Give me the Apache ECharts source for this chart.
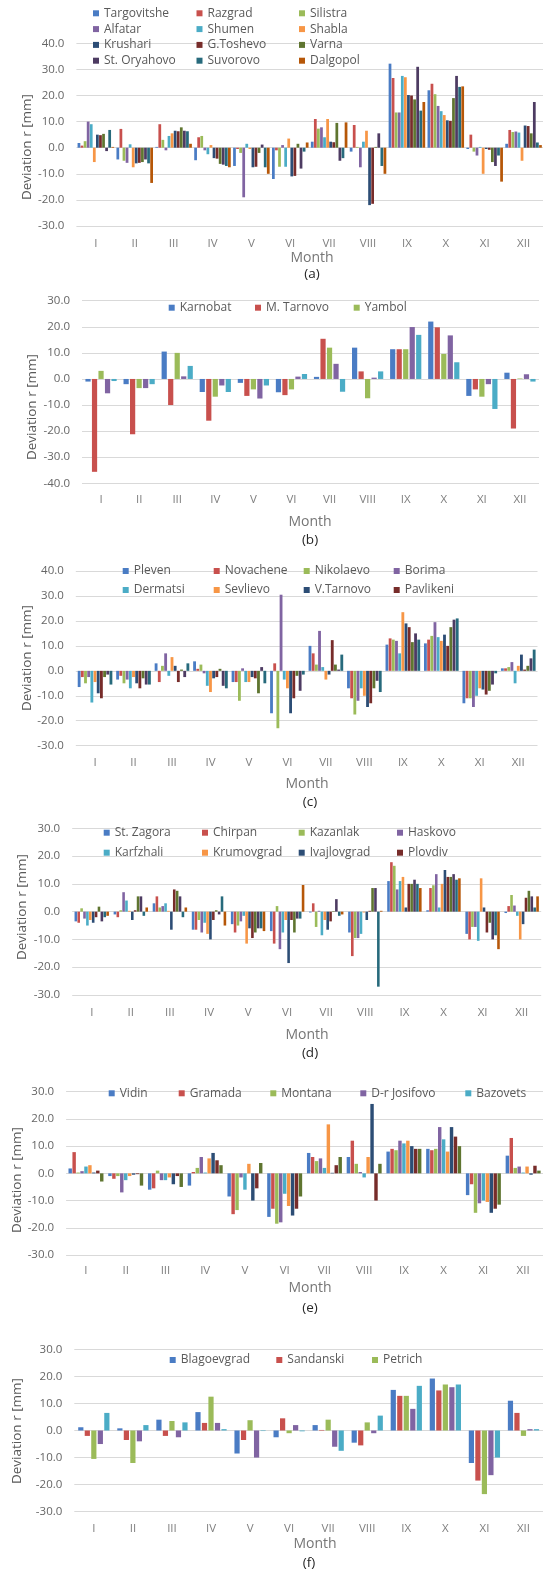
<!DOCTYPE html>
<html>
<head>
<meta charset="utf-8">
<script src="https://cdn.jsdelivr.net/npm/echarts@6/dist/echarts.min.js"></script>
<style>
  html, body { margin: 0; padding: 0; background: #ffffff; }
  #chart { width: 543px; height: 1572px; }
</style>
</head>
<body>
<div id="chart"></div>
<script>
// Monthly deviation r [mm] per station, months I..XII
const months = ['I', 'II', 'III', 'IV', 'V', 'VI', 'VII', 'VIII', 'IX', 'X', 'XI', 'XII'];

// (a) north-east stations
const targovitshe = [1.8, -4.5, 0.3, -4.8, -7, -12, 2.3, -1.5, 32.2, 22, -0.5, 1.5];
const razgrad = [0.8, 7.2, 9, 4, -0.5, -1, 11, 8.7, 26.7, 24.5, 5, 6.8];
const silistra = [2.5, -5, 3, 4.5, -2, -7.3, 7.3, 0.3, 13.5, 20.5, -1.5, 6];
const alfatar = [10, -5.8, -1, -1, -19, 1, 7.8, -7.5, 13.5, 16, -3, 6.2];
const shumen = [9, 1.3, 4.5, -2.5, 1.5, -7.3, 4, 2.3, 27.5, 14, 0.3, 5.8];
const shabla = [-5.5, -7.5, 5.5, 1, -0.5, 3.5, 11, 6.5, 27, 12.5, -10, -5];
const krushari = [5, -6, 6.5, -4, -7.5, -11, 2.3, -22, 20.2, 10.5, -0.5, 8.5];
const gToshevo = [4.8, -5.8, 6.3, -4.2, -7.3, -10.8, 2.1, -21.5, 20, 10.3, -0.8, 8.3];
const varna = [5.3, -5.5, 7.8, -6.2, -2, 1.5, 9.5, 0.3, 18.5, 19, -5.5, 5.5];
const stOryahovo = [-1.3, -4.5, 6.5, -6.5, 1.2, -8, -5, 5.5, 31, 27.5, -7, 17.5];
const suvorovo = [6.8, -6, 6.3, -7, -7.5, -1.5, -4, -7, 14.2, 23.3, -3, 2];
const dalgopol = [0.3, -13.5, 1.5, -7.5, -10, 2, 9.7, -10, 17.5, 23.5, -13, 1];

// (b) south-east stations
const karnobat = [-1, -2, 10.5, -5, -1.5, -5.1, 0.8, 12, 11.4, 22, -6.5, 2.4];
const mTarnovo = [-35.6, -21.2, -10, -16, -6.5, -6.2, 15.4, 2.9, 11.4, 19.8, -4, -19];
const yambol = [3.1, -3.5, 10, -6.8, -4, -4, 12, -7.4, 11.4, 9.6, -6.8, 0.2];
const b4 = [-5.5, -3.5, 1, -2.5, -7.5, 0.9, 5.8, 0.5, 19.9, 16.7, -2, 1.8];
const b5 = [-0.8, -2, 5, -5, -2.5, 1.9, -4.9, 2.9, 16.9, 6.4, -11.5, -1];

// (c) north-central stations
const pleven = [-6.5, -3.5, 3, 3.8, -4.5, -17, 10, -7, 10.5, 11, -13, 1];
const novachene = [-2.5, -2, -4.5, 0.8, -4.5, 3, 7, -11, 13, 12.5, -11, 1];
const nikolaevo = [-5, -5, 2, 2.5, -12, -23, 2.5, -17.5, 12.5, 14, -11, 1.5];
const borima = [-2.5, -3.5, 7, -1, 1, 30.5, 16, -12, 12, 19.5, -14.5, 3.5];
const dermatsi = [-12.7, -7, -2, -6, -4.5, -3.5, 1.5, -7, 7, 13.5, -10, -5];
const sevlievo = [-4.5, -2.5, 5.5, -8.5, -4.5, -7, -3.5, -10, 23.5, 12, -7, 2];
const vTarnovo = [-9, -5, 2, -3, -2.5, -17, -1.5, -14.5, 19, 14.5, -7.5, 6.5];
const pavlikeni = [-11, -7, -4.5, -2.5, -3, -11, 12.3, -13, 17.5, 10, -9.5, 0.5];
const c9 = [-2.5, -3, 0.5, 0.8, -9, -2, 2.5, -7, 11.5, 17.5, -8, 2];
const c10 = [-1.5, -5.5, -2.5, -6, 1.5, -8, 0.5, -4, 15, 20.5, -5.5, 5];
const c11 = [-5.5, -5.5, 3, -7, -5, -1.5, 6.5, -8.5, 12.5, 21, -1, 8.5];

// (d) south-central stations
const stZagora = [-3.5, -1, 3, -6.5, -4.5, -7, -0.3, -7.5, 11, 0.5, -8, -0.5];
const chirpan = [-4, -2, 5.5, -6.5, -7.5, -11.5, 3, -16, 17.8, 8.5, -10, 2];
const kazanlak = [1.2, 0.5, 1.5, -3, -5, 2, -5.5, -9.5, 16.5, 9.5, -5.5, 6];
const haskovo = [-2.5, 7, 2, -7.5, -3.5, -13.5, 0.3, -9.5, 8, 13.5, -5.5, 2.2];
const karfzhali = [-5, 4, 3, -4, -1.5, -7.5, -8.5, -8, 11, 1.5, -10.5, -1.5];
const krumovgrad = [-3, 0.3, 0.3, -8, -11.5, -3, -3, -0.3, 12.5, 10, 12, -10];
const ivajlovgrad = [-4, -3, -6.5, -10, -6, -18.5, -6.5, -3, 1.5, 15, 1.5, -4.5];
const plovdiv = [-2, 0.5, 8, -3, -9.5, -3, -3.5, 0.3, 10, 12.5, -7.5, 5];
const d9 = [1.8, 5.5, 7.5, 0.5, -7.5, -7.5, 0.2, 8.5, 10, 12.5, -4, 7.5];
const d10 = [-3.5, 5.5, 5.5, -1, -6, -2.5, 4.5, 8.5, 11.5, 13.5, -10, 5.5];
const d11 = [-2, -1.5, -2, 5.5, -6, -2.5, -1.5, -27, 10, 11.5, -8.5, 1.5];
const d12 = [-1.5, 1.5, 1.5, -5, -7, 9.6, -1, 0.3, 8.5, 12, -13.5, 5.5];

// (e) north-west stations
const vidin = [1.8, -1, -6, -4.5, -8.5, -16, 7.5, 6, 8, 9, -8, 6.5];
const gramada = [7.8, -2, -5.5, 0.5, -15, -13, 6, 12, 9, 8.5, -4, 13];
const montana = [0.3, -1, 1, 2, -13.5, -18.5, 4.5, 3.5, 8.5, 9, -14.5, 2];
const drJosifovo = [0.8, -7, -2.5, 6, -1.5, -18, 5.5, 0.5, 12, 17, -11, 2.5];
const bazovets = [2.5, -2.5, -2.5, 0.3, -6, -7.5, 2, -1.5, 11, 12.5, -10, 0.3];
const e6 = [3, -1, -1.5, 5.5, 3.5, -12, 18, 6, 12, 8, -10.5, 2.5];
const e7 = [0.3, -0.5, -4, 7.5, -10, -15.5, 0.2, 25.5, 10, 17, -14.5, -0.5];
const e8 = [1, -0.3, -1, 4.8, -5.5, -13, 3, -10, 9, 13.5, -13, 2.8];
const e9 = [-3, -4.5, -5, 3, 3.8, -8.5, 6, 3.5, 9, 10, -11.5, 1];

// (f) south-west stations
const blagoevgrad = [1.2, 0.8, 4, 6.8, -8.5, -2.5, 2, -4.5, 15, 19.2, -12, 11];
const sandanski = [-2, -3.5, -2, 2.8, -3.5, 4.5, 0.2, -5.5, 12.8, 14.8, -18.5, 6.5];
const petrich = [-10.5, -12, 3.5, 12.5, 3.8, -1, 4, 3, 12.8, 17, -23.5, -2];
const f4 = [-5, -4, -2.5, 2.8, -10, 2, -6, -1, 8, 16, -16.5, 0.5];
const f5 = [6.5, 2, 3, 0.5, -0.2, -0.3, -7.5, 5.5, 16.5, 17, -10, 0.5];

const palette = ['#4A7CC4', '#C8504D', '#9BBB59', '#8064A2', '#4BACC6', '#F79646',
                 '#2C4D75', '#772C2A', '#5F7530', '#4D3B62', '#276A7C', '#B65708'];
const FONT = '"Open Sans", "DejaVu Sans", sans-serif';

const panels = [
  { tag: '(a)', grid: { left: 76.4, top: 43.3, width: 471.6, height: 182.7 }, min: -30, max: 40,
    catGap: '6%', barGap: '12%', labelMargin: 13,
    series: [['Targovitshe', targovitshe], ['Razgrad', razgrad], ['Silistra', silistra], ['Alfatar', alfatar],
             ['Shumen', shumen], ['Shabla', shabla], ['Krushari', krushari], ['G.Toshevo', gToshevo],
             ['Varna', varna], ['St. Oryahovo', stOryahovo], ['Suvorovo', suvorovo], ['Dalgopol', dalgopol]],
    monthPos: [312, 258], tagPos: [312, 274], yName: [27.5, 147] },
  { tag: '(b)', grid: { left: 82, top: 300.7, width: 457, height: 182.6 }, min: -40, max: 30,
    catGap: '18%', barGap: '25%', labelMargin: 11,
    series: [['Karnobat', karnobat], ['M. Tarnovo', mTarnovo], ['Yambol', yambol], ['b4', b4], ['b5', b5]],
    monthPos: [310, 522], tagPos: [310, 540], yName: [32.5, 407] },
  { tag: '(c)', grid: { left: 75.8, top: 571, width: 461.7, height: 174.7 }, min: -30, max: 40,
    catGap: '10%', barGap: '12%', labelMargin: 12,
    series: [['Pleven', pleven], ['Novachene', novachene], ['Nikolaevo', nikolaevo], ['Borima', borima],
             ['Dermatsi', dermatsi], ['Sevlievo', sevlievo], ['V.Tarnovo', vTarnovo], ['Pavlikeni', pavlikeni],
             ['c9', c9], ['c10', c10], ['c11', c11]],
    monthPos: [307, 784], tagPos: [310, 802], yName: [27.5, 658] },
  { tag: '(d)', grid: { left: 72.2, top: 828.3, width: 469, height: 166.7 }, min: -30, max: 30,
    catGap: '12%', barGap: '12%', labelMargin: 12.5,
    series: [['St. Zagora', stZagora], ['Chirpan', chirpan], ['Kazanlak', kazanlak], ['Haskovo', haskovo],
             ['Karfzhali', karfzhali], ['Krumovgrad', krumovgrad], ['Ivajlovgrad', ivajlovgrad], ['Plovdiv', plovdiv],
             ['d9', d9], ['d10', d10], ['d11', d11], ['d12', d12]],
    monthPos: [307, 1035], tagPos: [310, 1053], yName: [22.5, 907] },
  { tag: '(e)', grid: { left: 66.1, top: 1091.7, width: 477, height: 163.3 }, min: -30, max: 30,
    catGap: '12%', barGap: '15%', labelMargin: 11,
    series: [['Vidin', vidin], ['Gramada', gramada], ['Montana', montana], ['D-r Josifovo', drJosifovo],
             ['Bazovets', bazovets], ['e6', e6], ['e7', e7], ['e8', e8], ['e9', e9]],
    monthPos: [310, 1288], tagPos: [310, 1308], yName: [17.5, 1180] },
  { tag: '(f)', grid: { left: 74.3, top: 1349.3, width: 480.7, height: 162.4 }, min: -30, max: 30,
    catGap: '20%', barGap: '25%', labelMargin: 12,
    series: [['Blagoevgrad', blagoevgrad], ['Sandanski', sandanski], ['Petrich', petrich], ['f4', f4], ['f5', f5]],
    monthPos: [315, 1544], tagPos: [309, 1563], yName: [17.5, 1431] }
];

// Legend block: names, left edge, vertical centre of first row, orientation, row pitch
function legendBlock(names, left, yCenter, orient, pitch) {
  return {
    data: names, left: left, top: yCenter - 7, orient: orient,
    itemWidth: 6, itemHeight: 6, itemGap: orient === 'vertical' ? pitch - 14 : 20,
    padding: 0, icon: 'rect', selectedMode: false,
    textStyle: { color: '#595959', fontSize: 12, fontFamily: FONT, lineHeight: 14 }
  };
}

const legends = [
  legendBlock(['Targovitshe', 'Alfatar', 'Krushari', 'St. Oryahovo'], 93, 13.3, 'vertical', 15.8),
  legendBlock(['Razgrad', 'Shumen', 'G.Toshevo', 'Suvorovo'], 196.5, 13.3, 'vertical', 15.8),
  legendBlock(['Silistra', 'Shabla', 'Varna', 'Dalgopol'], 299, 13.3, 'vertical', 15.8),

  legendBlock(['Karnobat'], 168.7, 307.7, 'horizontal'),
  legendBlock(['M. Tarnovo'], 255, 307.7, 'horizontal'),
  legendBlock(['Yambol'], 353.7, 307.7, 'horizontal'),

  legendBlock(['Pleven', 'Dermatsi'], 122.7, 571, 'vertical', 19),
  legendBlock(['Novachene', 'Sevlievo'], 213.7, 571, 'vertical', 19),
  legendBlock(['Nikolaevo', 'V.Tarnovo'], 303.7, 571, 'vertical', 19),
  legendBlock(['Borima', 'Pavlikeni'], 393.7, 571, 'vertical', 19),

  legendBlock(['St. Zagora', 'Karfzhali'], 103.7, 832.7, 'vertical', 20),
  legendBlock(['Chirpan', 'Krumovgrad'], 202, 832.7, 'vertical', 20),
  legendBlock(['Kazanlak', 'Ivajlovgrad'], 298.7, 832.7, 'vertical', 20),
  legendBlock(['Haskovo', 'Plovdiv'], 397, 832.7, 'vertical', 20),

  legendBlock(['Vidin'], 108.7, 1093.3, 'horizontal'),
  legendBlock(['Gramada'], 178.7, 1093.3, 'horizontal'),
  legendBlock(['Montana'], 270.3, 1093.3, 'horizontal'),
  legendBlock(['D-r Josifovo'], 360.3, 1093.3, 'horizontal'),
  legendBlock(['Bazovets'], 465.3, 1093.3, 'horizontal'),

  legendBlock(['Blagoevgrad'], 169.7, 1360, 'horizontal'),
  legendBlock(['Sandanski'], 276.3, 1360, 'horizontal'),
  legendBlock(['Petrich'], 372, 1360, 'horizontal')
];

const grids = [], xAxes = [], yAxes = [], series = [], graphics = [];
panels.forEach((p, i) => {
  grids.push(Object.assign({ containLabel: false }, p.grid));
  xAxes.push({
    type: 'category', gridIndex: i, data: months,
    axisLine: { show: false }, axisTick: { show: false },
    axisLabel: { color: '#7f7f7f', fontSize: 11.5, fontFamily: FONT, margin: p.labelMargin - 1, interval: 0 }
  });
  yAxes.push({
    type: 'value', gridIndex: i, min: p.min, max: p.max, interval: 10,
    axisLine: { show: false }, axisTick: { show: false },
    axisLabel: { color: '#666666', fontSize: 11.5, fontFamily: FONT, margin: 12,
                 formatter: v => v.toFixed(1) },
    splitLine: { lineStyle: { color: '#d9d9d9', width: 1 } }
  });
  p.series.forEach(([name, vals], k) => {
    series.push({
      type: 'bar', name: name, xAxisIndex: i, yAxisIndex: i, data: vals,
      barGap: p.barGap, barCategoryGap: p.catGap,
      itemStyle: { color: palette[k] }
    });
  });
  graphics.push({
    type: 'text', x: p.monthPos[0], y: p.monthPos[1],
    style: { text: 'Month', fill: '#767676', font: '14px ' + FONT, textAlign: 'center', textVerticalAlign: 'middle' }
  });
  graphics.push({
    type: 'text', x: p.tagPos[0], y: p.tagPos[1],
    style: { text: p.tag, fill: '#262626', font: '13.5px ' + FONT, textAlign: 'center', textVerticalAlign: 'middle' }
  });
  graphics.push({
    type: 'text', x: p.yName[0], y: p.yName[1], rotation: Math.PI / 2,
    style: { text: 'Deviation r [mm]', fill: '#595959', font: '13.5px ' + FONT, textAlign: 'center', textVerticalAlign: 'middle' }
  });
});

const chart = echarts.init(document.getElementById('chart'), null, { renderer: 'canvas' });
chart.setOption({
  backgroundColor: '#ffffff',
  animation: false,
  color: palette,
  legend: legends,
  grid: grids,
  xAxis: xAxes,
  yAxis: yAxes,
  series: series,
  graphic: graphics
});
</script>
</body>
</html>
